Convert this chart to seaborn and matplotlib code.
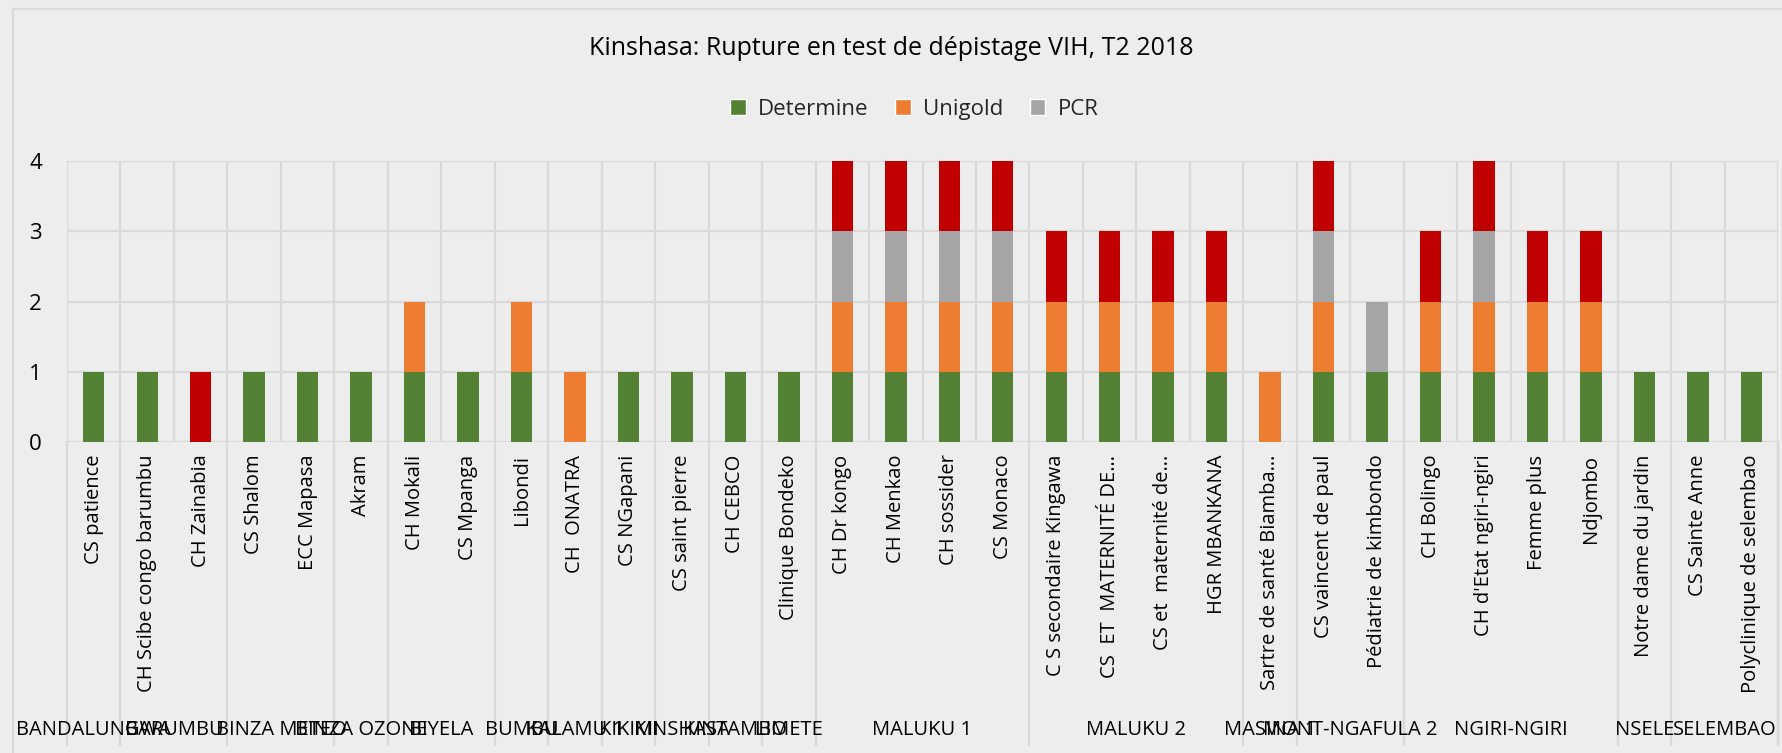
import numpy as np
import pandas as pd
import matplotlib
matplotlib.use("Agg")
import matplotlib.pyplot as plt
import seaborn as sns
from matplotlib.patches import Patch
from matplotlib.lines import Line2D
from matplotlib.transforms import blended_transform_factory

# sites (x categories) in chart order
sites = [
    "CS patience", "CH Scibe congo barumbu", "CH Zainabia", "CS Shalom", "ECC Mapasa",
    "Akram", "CH Mokali", "CS Mpanga", "Libondi", "CH  ONATRA", "CS NGapani",
    "CS saint pierre", "CH CEBCO", "Clinique Bondeko", "CH Dr kongo", "CH Menkao",
    "CH sossider", "CS Monaco", "C S secondaire Kingawa", "CS  ET  MATERNITÉ DE…",
    "CS et  maternité de…", "HGR MBANKANA", "Sartre de santé Biamba…",
    "CS vaincent de paul", "Pédiatrie de kimbondo", "CH Bolingo",
    "CH d'Etat ngiri-ngiri", "Femme plus", "Ndjombo", "Notre dame du jardin",
    "CS Sainte Anne", "Polyclinique de selembao",
]

# health zones and how many sites each one holds
zones = [
    "BANDALUNGWA", "BARUMBU", "BINZA METEO", "BINZA OZONE", "BIYELA", "BUMBU",
    "KALAMU 1", "KIKIMI", "KINSHASA", "KINTAMBO", "LIMETE", "MALUKU 1", "MALUKU 2",
    "MASINA 1", "MONT-NGAFULA 2", "NGIRI-NGIRI", "NSELE", "SELEMBAO",
]
zone_sizes = [1, 2, 2, 1, 2, 1, 1, 1, 1, 1, 1, 4, 4, 1, 2, 4, 1, 2]

determine = [1, 1, 0, 1, 1, 1, 1, 1, 1, 0, 1, 1, 1, 1, 1, 1,
             1, 1, 1, 1, 1, 1, 0, 1, 1, 1, 1, 1, 1, 1, 1, 1]
unigold = [0, 0, 0, 0, 0, 0, 1, 0, 1, 1, 0, 0, 0, 0, 1, 1,
           1, 1, 1, 1, 1, 1, 1, 1, 0, 1, 1, 1, 1, 0, 0, 0]
pcr = [0, 0, 0, 0, 0, 0, 0, 0, 0, 0, 0, 0, 0, 0, 1, 1,
       1, 1, 0, 0, 0, 0, 0, 1, 1, 0, 1, 0, 0, 0, 0, 0]
other = [0, 0, 1, 0, 0, 0, 0, 0, 0, 0, 0, 0, 0, 0, 1, 1,
         1, 1, 1, 1, 1, 1, 0, 1, 0, 1, 1, 1, 1, 0, 0, 0]

df = pd.DataFrame({"site": sites, "Determine": determine, "Unigold": unigold,
                   "PCR": pcr, "Autre": other})

colors = {"Determine": "#548235", "Unigold": "#ED7D31", "PCR": "#A5A5A5", "Autre": "#C00000"}
grid_c = "#D9D9D9"

sns.set_theme(style="white")
plt.rcParams['font.family'] = ['Open Sans', 'DejaVu Sans']

fig = plt.figure(figsize=(17.82, 7.53), dpi=100, facecolor="#EDEDED")
ax = fig.add_axes([0.0376, 0.413, 0.9602, 0.373])
ax.set_facecolor("none")

# stacked bars, one seaborn call per test
bottom = np.zeros(len(df))
for name in ["Determine", "Unigold", "PCR", "Autre"]:
    sns.barplot(data=df, x="site", y=name, color=colors[name], width=0.4,
                bottom=bottom, ax=ax, linewidth=0, errorbar=None, saturation=1,
                zorder=3)
    bottom = bottom + df[name].to_numpy()

ax.set_xlim(-0.5, len(sites) - 0.5)
ax.set_ylim(0, 4)
ax.set_yticks(range(5))
ax.set_xlabel("")
ax.set_ylabel("")
ax.set_xticks(range(len(sites)))
ax.set_xticklabels(sites, rotation=90, fontsize=14.5)
ax.set_xticks(np.arange(len(sites) + 1) - 0.5, minor=True)
ax.tick_params(axis="x", which="both", length=0, pad=9, colors="black")
ax.tick_params(axis="y", length=0, pad=18, labelsize=16, colors="black")
ax.grid(axis="y", color=grid_c, lw=1.6, zorder=0)
ax.grid(axis="x", which="minor", color=grid_c, lw=1.6, zorder=0)
ax.grid(axis="x", which="major", visible=False)
for s in ax.spines.values():
    s.set_visible(False)
ax.axhline(0, color=grid_c, lw=1.8, zorder=2)

# zone separators and zone labels under the site labels
trans = blended_transform_factory(ax.transData, ax.transAxes)
edges = np.concatenate([[0], np.cumsum(zone_sizes)])
for e in edges:
    ax.plot([e - 0.5, e - 0.5], [0, -1.08], transform=trans, color=grid_c,
            lw=1.6, clip_on=False)
for z, a, b in zip(zones, edges[:-1], edges[1:]):
    ax.text((a + b - 1) / 2, -1.027, z, transform=trans, ha="center", va="center",
            fontsize=14.5, color="black")

fig.text(0.5, 0.936, "Kinshasa: Rupture en test de dépistage VIH, T2 2018",
         ha="center", va="center", fontsize=18, color="black")

handles = [Patch(facecolor=colors[n], label=n) for n in ["Determine", "Unigold", "PCR"]]
fig.legend(handles=handles, loc="center", bbox_to_anchor=(0.513, 0.855), ncol=3,
           frameon=False, fontsize=16, handlelength=0.7, handleheight=0.7,
           handletextpad=0.55, columnspacing=1.2)

# chart frame
fig.add_artist(Line2D([0.0073, 1.0], [0.988, 0.988], color=grid_c, lw=1.6))
fig.add_artist(Line2D([0.0073, 0.0073], [0.0, 0.988], color=grid_c, lw=1.6))

fig.savefig("out.png", dpi=100, facecolor=fig.get_facecolor())
